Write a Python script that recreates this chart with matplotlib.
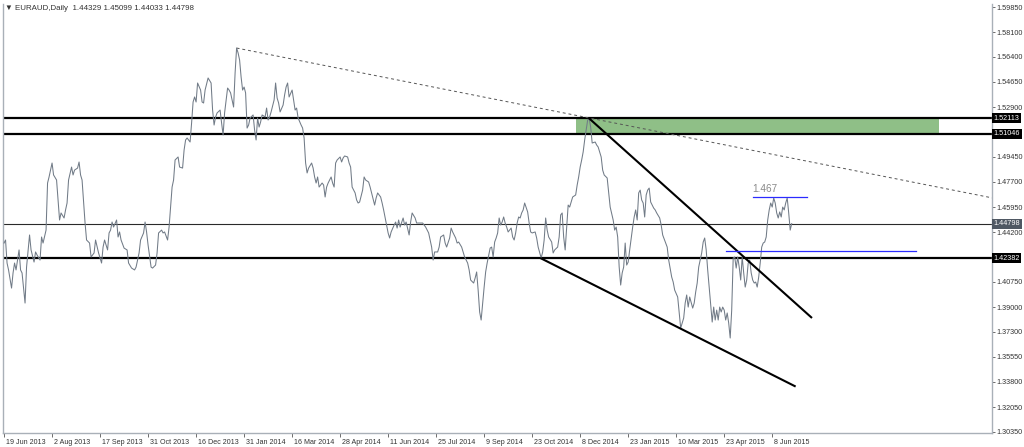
import matplotlib
matplotlib.use("Agg")
import matplotlib.pyplot as plt
import matplotlib.transforms as mtransforms

plt.rcParams['font.family'] = ['Liberation Sans', 'DejaVu Sans']

# daily closes, bar index from 19 Jun 2013
bars = [0, 1, 2, 3, 5, 6, 7, 8, 10, 11, 12, 14, 15, 17, 18, 20, 21, 22, 24, 25, 26, 28, 29, 30, 32, 33, 35, 36, 37, 38,
        40, 41, 42, 43, 45, 46, 47, 49, 50, 51, 52, 54, 55, 57, 58, 60, 61, 63, 65, 66, 67, 69, 70, 71, 72, 73, 75, 76, 77, 78,
        80, 82, 83, 85, 87, 88, 90, 91, 93, 94, 95, 96, 98, 99, 101, 102, 103, 105, 106, 107, 109, 110, 112, 113, 114, 116, 117, 119, 120, 121,
        122, 124, 125, 126, 127, 128, 129, 131, 132, 133, 134, 136, 138, 139, 140, 141, 142, 144, 145, 146, 147, 149, 150, 151, 153, 154, 155, 156, 157, 158,
        159, 160, 161, 162, 163, 164, 166, 167, 168, 169, 170, 171, 172, 174, 175, 176, 177, 178, 180, 181, 182, 183, 184, 186, 187, 188, 189, 190, 192, 193,
        194, 195, 196, 198, 199, 200, 201, 202, 203, 205, 206, 207, 208, 209, 210, 212, 213, 214, 215, 216, 218, 219, 220, 221, 222, 224, 225, 226, 227, 229,
        230, 231, 232, 234, 235, 236, 237, 239, 240, 241, 243, 244, 245, 247, 248, 249, 251, 252, 253, 255, 256, 257, 258, 260, 261, 262, 263, 264, 266, 267,
        268, 270, 271, 272, 274, 275, 277, 279, 281, 282, 283, 285, 286, 287, 289, 290, 291, 293, 294, 295, 297, 298, 299, 301, 302, 303, 305, 306, 307, 309,
        310, 311, 313, 314, 315, 316, 317, 318, 319, 320, 321, 322, 324, 325, 326, 327, 328, 329, 330, 331, 332, 333, 334, 335, 336, 338, 339, 340, 341, 342,
        343, 344, 345, 346, 347, 349, 350, 351, 352, 354, 355, 356, 358, 359, 360, 361, 362, 363, 365, 366, 367, 369, 370, 371, 372, 373, 374, 375, 376, 377,
        378, 379, 381, 382, 383, 384, 385, 386, 387, 388, 389, 390, 391, 392, 394, 395, 396, 398, 399, 400, 402, 403, 404, 406, 407, 408, 409, 410, 411, 412,
        413, 414, 415, 416, 417, 419, 420, 421, 422, 423, 424, 425, 426, 427, 428, 429, 430, 431, 433, 434, 435, 437, 438, 439, 441, 442, 443, 445, 446, 447,
        449, 450, 451, 453, 454, 455, 456, 457, 459, 460, 461, 462, 463, 465, 466, 467, 468, 469, 470, 471, 472, 473, 474, 475, 476, 477, 478, 479, 480, 481,
        482, 483, 484, 485, 486, 487, 488, 489, 490, 491, 492, 493, 494, 495, 496, 497, 498, 499, 500, 501, 502, 503, 504, 505, 506, 507, 508, 509, 510, 511,
        512, 513, 514, 515, 516, 517, 518, 519, 520, 521, 522, 523, 524, 525]
closes = [1.4345, 1.4366, 1.4206, 1.4158, 1.4032, 1.4137, 1.4206, 1.4158, 1.4297, 1.4158, 1.4137, 1.3928, 1.4178, 1.4401, 1.4297, 1.4213, 1.4283, 1.4262, 1.4227, 1.4387, 1.4345, 1.4435, 1.4762, 1.4804, 1.4901, 1.4818, 1.4783, 1.4644, 1.4505, 1.4554,
          1.4519, 1.4575, 1.4623, 1.4783, 1.4873, 1.4818, 1.4852, 1.4866, 1.4908, 1.4818, 1.4783, 1.4484, 1.4366, 1.4345, 1.4248, 1.4276, 1.4366, 1.4276, 1.4206, 1.4317, 1.4366, 1.4297, 1.4415, 1.4435, 1.4491, 1.4456, 1.4505, 1.4387, 1.4422, 1.4366,
          1.4310, 1.4297, 1.4206, 1.4171, 1.4158, 1.4178, 1.4276, 1.4366, 1.4415, 1.4491, 1.4422, 1.4331, 1.4178, 1.4171, 1.4192, 1.4276, 1.4415, 1.4435, 1.4415, 1.4422, 1.4366, 1.4456, 1.4734, 1.4783, 1.4922, 1.4943, 1.4873, 1.4866, 1.4991, 1.5061,
          1.5075, 1.5047, 1.5179, 1.5325, 1.5360, 1.5325, 1.5457, 1.5408, 1.5325, 1.5318, 1.5408, 1.5492, 1.5457, 1.5269, 1.5165, 1.5221, 1.5249, 1.5269, 1.5179, 1.5096, 1.5249, 1.5422, 1.5408, 1.5388, 1.5290, 1.5527, 1.5700, 1.5666, 1.5617, 1.5499,
          1.5408, 1.5429, 1.5388, 1.5144, 1.5165, 1.5214, 1.5235, 1.5130, 1.5061, 1.5214, 1.5151, 1.5186, 1.5235, 1.5221, 1.5283, 1.5200, 1.5221, 1.5256, 1.5339, 1.5457, 1.5353, 1.5318, 1.5256, 1.5304, 1.5374, 1.5429, 1.5457, 1.5360, 1.5408, 1.5339,
          1.5269, 1.5283, 1.5214, 1.5165, 1.5144, 1.5075, 1.4901, 1.4832, 1.4866, 1.4901, 1.4866, 1.4804, 1.4762, 1.4804, 1.4734, 1.4762, 1.4748, 1.4665, 1.4734, 1.4762, 1.4804, 1.4762, 1.4734, 1.4901, 1.4922, 1.4943, 1.4908, 1.4936, 1.4950, 1.4943,
          1.4901, 1.4873, 1.4734, 1.4693, 1.4644, 1.4623, 1.4630, 1.4713, 1.4804, 1.4783, 1.4769, 1.4734, 1.4693, 1.4609, 1.4658, 1.4693, 1.4665, 1.4623, 1.4575, 1.4470, 1.4415, 1.4380, 1.4422, 1.4470, 1.4491, 1.4449, 1.4505, 1.4456, 1.4519, 1.4470,
          1.4491, 1.4401, 1.4491, 1.4554, 1.4519, 1.4484, 1.4484, 1.4484, 1.4456, 1.4435, 1.4415, 1.4317, 1.4227, 1.4283, 1.4283, 1.4317, 1.4387, 1.4401, 1.4345, 1.4317, 1.4380, 1.4449, 1.4422, 1.4380, 1.4345, 1.4352, 1.4317, 1.4283, 1.4248, 1.4206,
          1.4158, 1.4088, 1.4067, 1.4102, 1.4144, 1.4018, 1.3866, 1.3810, 1.3928, 1.4039, 1.4144, 1.4206, 1.4310, 1.4317, 1.4248, 1.4352, 1.4380, 1.4415, 1.4519, 1.4470, 1.4491, 1.4526, 1.4484, 1.4456, 1.4422, 1.4449, 1.4387, 1.4366, 1.4415, 1.4484,
          1.4526, 1.4519, 1.4554, 1.4575, 1.4623, 1.4561, 1.4484, 1.4422, 1.4415, 1.4422, 1.4380, 1.4317, 1.4241, 1.4283, 1.4366, 1.4519, 1.4435, 1.4387, 1.4352, 1.4276, 1.4297, 1.4317, 1.4387, 1.4540, 1.4554, 1.4387, 1.4297, 1.4456, 1.4609, 1.4595,
          1.4630, 1.4665, 1.4679, 1.4748, 1.4804, 1.4873, 1.4922, 1.4978, 1.5061, 1.5131, 1.5200, 1.5211, 1.5151, 1.5040, 1.5047, 1.5026, 1.5012, 1.4943, 1.4852, 1.4818, 1.4797, 1.4693, 1.4595, 1.4505, 1.4435, 1.4456, 1.4387, 1.4178, 1.4053, 1.4137,
          1.4178, 1.4345, 1.4192, 1.4213, 1.4297, 1.4456, 1.4526, 1.4575, 1.4505, 1.4693, 1.4713, 1.4644, 1.4623, 1.4526, 1.4679, 1.4713, 1.4727, 1.4630, 1.4588, 1.4575, 1.4554, 1.4519, 1.4470, 1.4401, 1.4345, 1.4317, 1.4227, 1.4109, 1.4074, 1.4018,
          1.3970, 1.3859, 1.3754, 1.3824, 1.3928, 1.3984, 1.3900, 1.3970, 1.3893, 1.3928, 1.4005, 1.4067, 1.4178, 1.4276, 1.4352, 1.4380, 1.4297, 1.4158, 1.4039, 1.3928, 1.3796, 1.3900, 1.3810, 1.3879, 1.3810, 1.3900, 1.3866, 1.3900, 1.3879, 1.3810,
          1.3859, 1.3789, 1.3685, 1.3879, 1.4241, 1.4248, 1.4171, 1.4248, 1.4178, 1.4088, 1.4248, 1.4137, 1.4039, 1.4088, 1.4206, 1.4227, 1.4137, 1.4088, 1.4067, 1.4074, 1.4039, 1.4109, 1.4206, 1.4317, 1.4345, 1.4352, 1.4387, 1.4505, 1.4575, 1.4623,
          1.4595, 1.4658, 1.4623, 1.4554, 1.4519, 1.4561, 1.4526, 1.4595, 1.4575, 1.4623, 1.4658, 1.4554, 1.4435, 1.4480]

date_ticks = [0, 32, 64, 96, 128, 160, 192, 224, 256, 288, 320, 352, 384, 416, 448, 480, 512]
date_labels = ["19 Jun 2013", "2 Aug 2013", "17 Sep 2013", "31 Oct 2013", "16 Dec 2013", "31 Jan 2014",
               "16 Mar 2014", "28 Apr 2014", "11 Jun 2014", "25 Jul 2014", "9 Sep 2014", "23 Oct 2014",
               "8 Dec 2014", "23 Jan 2015", "10 Mar 2015", "23 Apr 2015", "8 Jun 2015"]
price_ticks = [1.5985, 1.581, 1.564, 1.5465, 1.529, 1.4945, 1.477, 1.4595, 1.442,
               1.4075, 1.39, 1.373, 1.3555, 1.338, 1.3205, 1.3035]

levels = [1.52113, 1.51046, 1.44798, 1.42382]
current = 1.44798
zone = (381, 623, 1.51046, 1.52113)        # bar from, bar to, price low, price high
upper_trend = [(390, 1.5211), (538, 1.3829)]
lower_trend = [(358, 1.4238), (527, 1.3351)]
dotted_trend = [(155, 1.5700), (659, 1.4658)]
resist = [(499, 535), 1.4665]
support = [(481, 608), 1.4287]

fig = plt.figure(figsize=(10.24, 4.47), dpi=100)
ax = fig.add_axes([3 / 1024, 14 / 447, 989 / 1024, 429 / 447])
ax.set_xlim(-0.7, 658.5)
ax.set_ylim(1.3025, 1.6006)

ax.fill_between([zone[0], zone[1]], zone[2], zone[3], color='#8fbf87', lw=0, zorder=1)

for lv in levels:
    if lv == current:
        ax.axhline(lv, color='#2a2a2a', lw=0.8, zorder=2)
    else:
        ax.axhline(lv, color='black', lw=1.6, zorder=2)

ax.plot(bars, closes, color='#717b87', lw=0.75, zorder=3)

ax.plot(*zip(*dotted_trend), color='#555555', lw=0.7, ls=(0, (3, 3)), zorder=2)
ax.plot(*zip(*upper_trend), color='black', lw=1.5, zorder=4)
ax.plot(*zip(*lower_trend), color='black', lw=1.5, zorder=4)
ax.plot(resist[0], [resist[1]] * 2, color='#2b2bff', lw=0.9, zorder=4)
ax.plot(support[0], [support[1]] * 2, color='#2b2bff', lw=0.9, zorder=4)
ax.text(resist[0][0], resist[1] + 0.0022, '1.467', color='#8a8a8a', fontsize=7.2,
        ha='left', va='bottom', zorder=5)

# axes styling
ax.spines['top'].set_visible(False)
for s in ['left', 'right', 'bottom']:
    ax.spines[s].set_color('#a9b0b8')
    ax.spines[s].set_linewidth(1.0)

ax.yaxis.tick_right()
ax.set_yticks(price_ticks)
ax.set_yticklabels(['%.5f' % t for t in price_ticks])
ax.tick_params(axis='y', direction='out', length=2, width=0.6, color='#555555',
               labelsize=5.2, labelcolor='#333333', pad=1.5)

ax.set_xticks(date_ticks)
ax.set_xticklabels(date_labels)
ax.tick_params(axis='x', direction='out', length=3, width=0.6, color='#555555',
               labelsize=5.1, labelcolor='#333333', pad=1)
shift = mtransforms.ScaledTranslation(2 / 100, 0, fig.dpi_scale_trans)
for lab in ax.get_xticklabels():
    lab.set_horizontalalignment('left')
    lab.set_transform(lab.get_transform() + shift)

# price tags on right scale
ytr = ax.get_yaxis_transform()
for lv in levels:
    fc = '#4f5863' if lv == current else 'black'
    ax.text(1.0015, lv, '%.5f' % lv, transform=ytr, ha='left', va='center', color='white',
            fontsize=5.2, zorder=6, clip_on=False,
            bbox=dict(boxstyle='square,pad=0.22', fc=fc, ec='none'))

fig.text(5 / 1024, 1 - 9 / 447, '\u25bc EURAUD,Daily  1.44329 1.45099 1.44033 1.44798',
         fontsize=5.7, color='#333333', ha='left', va='center')

fig.savefig('out.png', dpi=100)
